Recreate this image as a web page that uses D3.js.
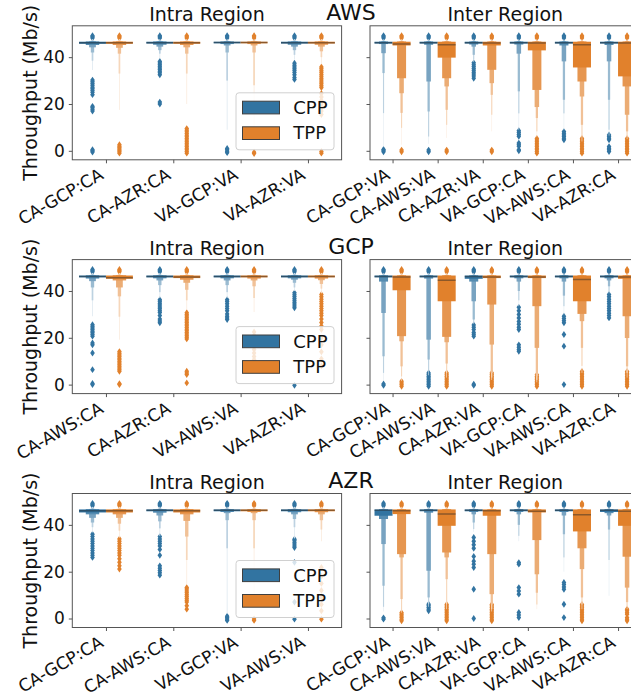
<!DOCTYPE html>
<html>
<head>
<meta charset="utf-8">
<script src="https://cdn.jsdelivr.net/npm/d3@7"></script>
<style>
  body { margin: 0; background: #fff; }
  text { font-family: "DejaVu Sans", sans-serif; fill: #111; }
</style>
</head>
<body>
<svg id="fig" width="631" height="698"></svg>
<script>
// ---- data ----
const hues = ["CPP", "TPP"];
const hueColors = ["#3274a1", "#e1812c"];
const yTicks = [0, 20, 40];
// upper ends of the letter-value boxes, innermost first (throughput is capped)
const upperEnds = [46.6, 46.7, 46.8, 47.0, 47.3, 47.7];
// outliers above the cap, seen on every box
const topOutliers = [48.2, 48.7, 49.2];

const awsIntraCats = ["CA-GCP:CA", "CA-AZR:CA", "VA-GCP:VA", "VA-AZR:VA"];
const awsIntraCPP = [
  {m: 46.2, lo: [45.7, 45.2, 44.2, 42.0, 38.5, 34.5], out: [-0.5, 0, 0.5, 17, 17.8, 18.5, 19, 24, 25, 25.8, 26.5, 27.2, 28, 28.8, 29.5, 30.2]},
  {m: 46.2, lo: [45.8, 45.3, 44.5, 43, 41.5, 39.5], out: [20, 20.8, 32.5, 33.3, 34, 34.7, 35.4, 36.1, 36.8, 37.5, 38.2]},
  {m: 46.3, lo: [45.9, 45.6, 45.0, 42, 30, 9], out: [-0.8, -0.2, 0.4, 1.0]},
  {m: 46.2, lo: [45.8, 45.3, 44.5, 43, 41, 39], out: [30.5, 31.3, 32.5, 33.5, 34.3, 35, 35.8, 36.6, 37.4]}
];
const awsIntraTPP = [
  {m: 46.2, lo: [45.7, 45.2, 44.0, 41.5, 33, 17.5], out: [-1, -0.4, 0.2, 0.8, 1.4, 2, 2.6]},
  {m: 46.2, lo: [45.7, 45.2, 44.2, 41.5, 33, 20], out: [-1, -0.3, 0.4, 1.1, 1.8, 2.5, 3.2, 3.9, 4.6, 5.3, 6, 6.7, 7.4, 8.1, 8.8, 9.5]},
  {m: 46.3, lo: [45.9, 45.6, 45.0, 42, 28, 5], out: [-1.2, -0.6]},
  {m: 46.2, lo: [45.8, 45.3, 44.5, 42.5, 40, 37], out: [-1, -0.3, 15.5, 17, 18.5, 20, 21.5, 23, 24.5, 27, 27.8, 28.6, 29.4, 30.2, 31, 31.8, 32.6, 33.4, 34.2, 35, 35.8]}
];

const awsInterCats = ["CA-GCP:VA", "CA-AWS:VA", "CA-AZR:VA", "VA-GCP:CA", "VA-AWS:CA", "VA-AZR:CA"];
const awsInterCPP = [
  {m: 46.2, lo: [45.8, 45.6, 41.7, 33.2, 16.1, 1.8], out: [-0.4, 0.2, 0.6]},
  {m: 46.2, lo: [45.8, 45.3, 29.6, 16.8, 6.1, 3], out: [-0.4, 0.3]},
  {m: 46.2, lo: [45.8, 45.4, 44.5, 41, 38.9, 38], out: [31, 32, 32.8, 33.6, 34.4, 35.2, 36, 36.8, 37.6]},
  {m: 46.2, lo: [45.8, 45.4, 41.5, 25.4, 16, 9], out: [0, 0.5, 1.9, 2.6, 3.3, 6.2, 7, 7.8, 8.6]},
  {m: 46.2, lo: [45.8, 45.0, 38.2, 21.8, 16, 9], out: [4.7, 5.4, 6.1, 6.8, 7.5, 8.2]},
  {m: 46.2, lo: [45.8, 45.2, 38.2, 21.8, 9, 6.5], out: [-0.3, 0.4, 1.1, 1.8, 4.7, 5.4, 6.1, 6.8]}
];
const awsInterTPP = [
  {m: 45.6, lo: [45.0, 31.0, 24.6, 16.2, 9.8, 2.6], out: [-0.4, 0.3]},
  {m: 45.3, lo: [39.8, 31.0, 27.5, 17.5, 11.1, 5.5], out: [-0.4, 0.3]},
  {m: 46.0, lo: [45.0, 34.6, 28.9, 23.9, 15.4, 8.3], out: [-0.4, 0.3]},
  {m: 46.0, lo: [42.9, 26.0, 18.7, 14.0, 8.3, 6], out: [-1, -0.3, 0.4, 1.1, 1.8, 2.5, 3.2, 3.9, 4.6, 5.3]},
  {m: 45.3, lo: [35.6, 29.6, 23.2, 11.1, 6.1, 4], out: [-1, -0.3, 0.4, 1.1, 1.8, 2.5, 3.2, 3.9, 4.6, 5.3]},
  {m: 46.0, lo: [31.8, 27.5, 15.4, 8.3, 6.0, 5], out: [-1, -0.3, 0.4, 1.1, 1.8, 2.5, 3.2, 3.9, 4.6, 5.3]}
];

const gcpIntraCats = ["CA-AWS:CA", "CA-AZR:CA", "VA-AWS:VA", "VA-AZR:VA"];
const gcpIntraCPP = [
  {m: 46.2, lo: [45.8, 45.3, 44.2, 41.5, 36, 29.2], out: [0, 0.5, 6.4, 13.5, 17, 17.8, 20.7, 21.4, 22.1, 22.8, 23.5, 24.2, 24.9, 25.6]},
  {m: 46.2, lo: [45.8, 45.4, 44.5, 42.5, 39.5, 37], out: [26.4, 27.2, 28, 29.5, 30.8, 31.6, 32.4, 33.2, 34, 34.8, 35.6, 36.3]},
  {m: 46.2, lo: [45.8, 45.4, 44.5, 42.5, 39.5, 37], out: [27.8, 28.5, 29.2, 30.2, 31.5, 32.5, 33.5, 34.5, 35.5, 36.3]},
  {m: 46.2, lo: [45.8, 45.4, 44.8, 43.5, 41.5, 40], out: [-0.3, 32.8, 33.6, 34.4, 35.2, 36, 36.8, 37.6, 38.4, 39.2]}
];
const gcpIntraTPP = [
  {m: 45.7, lo: [45.2, 44.5, 41.5, 37.7, 29, 19.2], out: [0, 0.4, 5.7, 6.4, 7.1, 7.8, 8.5, 9.2, 9.9, 10.6, 11.3, 12, 12.7, 13.4, 14.1]},
  {m: 46.0, lo: [45.5, 44.8, 43.5, 40.5, 36, 32], out: [0.7, 4.3, 5, 5.7, 19.5, 20.2, 20.9, 21.6, 22.3, 23, 23.7, 24.4, 25.1, 25.8, 26.5, 27.2, 27.9, 28.6, 29.3, 30, 30.7]},
  {m: 46.2, lo: [45.8, 45.3, 44.5, 42, 37, 31], out: [10.7, 12, 13.5, 15, 16.5, 18, 19.5, 21, 22.5]},
  {m: 46.2, lo: [45.8, 45.3, 44.6, 43, 41, 39], out: [8, 11, 14, 17, 20, 23.5, 25, 26.5, 28, 29.5, 30.5, 31.5, 32.5, 33.5, 34.5, 35.5, 36.5, 37.5, 38.5]}
];

const gcpInterCats = ["CA-GCP:VA", "CA-AWS:VA", "CA-AZR:VA", "VA-GCP:CA", "VA-AWS:CA", "VA-AZR:CA"];
const gcpInterCPP = [
  {m: 46.2, lo: [45.8, 44, 30.6, 12.1, 5, 2], out: [-0.3, 0.3]},
  {m: 46.2, lo: [45.8, 45.3, 19.2, 10.7, 6, 4], out: [-0.7, 0, 0.7, 1.4, 2.1, 2.8, 3.5, 4.2, 5]},
  {m: 46.2, lo: [45.2, 44, 35.6, 27.8, 26.5, 26], out: [-0.3, 0.2, 20.7, 21.5, 22.3, 23.5, 24.5, 25.5]},
  {m: 46.2, lo: [45.8, 45.4, 44, 40, 36, 33.5], out: [14.2, 15, 16, 17, 23.5, 24.5, 25.8, 27, 28.5, 30, 31.5, 33]},
  {m: 46.2, lo: [45.8, 45.4, 44, 38, 33.5, 30], out: [0, 16.4, 21.4, 26.4, 27.3, 28.2, 29.2]},
  {m: 46.2, lo: [45.8, 45.4, 44.5, 42, 40, 39], out: [28.5, 29.5, 30.5, 31.5, 32.5, 33.5, 34.5, 35.5, 36.5, 37.5, 38.5]}
];
const gcpInterTPP = [
  {m: 46.0, lo: [40.3, 20.7, 18.5, 7.8, 3.5, 1.5], out: [-0.7, 0, 0.7, 1.4]},
  {m: 44.6, lo: [35.6, 20.4, 18.1, 9.0, 5, 3], out: [-0.7, 0, 0.7, 1.4, 2.1, 2.8, 3.5, 4.2, 5]},
  {m: 46.0, lo: [45.5, 34.2, 17.1, 5.0, 3, 2], out: [-0.7, 0, 0.7, 1.4, 2.1, 2.8, 3.5, 4.2, 5]},
  {m: 46.0, lo: [45.5, 33.5, 15.7, 3.6, 2, 1], out: [-0.7, 0, 0.7, 1.4, 2.1, 2.8, 3.5, 4.2]},
  {m: 44.9, lo: [35.6, 30.2, 27.1, 15.7, 8, 5], out: [-0.7, 0, 0.7, 1.4, 2.1, 2.8, 3.5, 4.2, 4.9, 5.6]},
  {m: 46.0, lo: [45.2, 29.2, 19.9, 7.8, 5, 3], out: [-0.7, 0, 0.7, 1.4, 2.1, 2.8, 3.5, 4.2, 4.9, 5.6]}
];

const azrIntraCats = ["CA-GCP:CA", "CA-AWS:CA", "VA-GCP:VA", "VA-AWS:VA"];
const azrIntraCPP = [
  {m: 46.0, lo: [45.3, 44.5, 43, 41, 39, 36.8], out: [26.1, 27, 28, 29, 30, 31, 32, 33, 34, 35, 36]},
  {m: 46.2, lo: [45.8, 45.2, 44, 41.5, 38.5, 35.3], out: [18.5, 19.5, 20.5, 21.5, 22.5, 27, 29.5, 31, 32, 33, 34, 35]},
  {m: 46.2, lo: [45.8, 45.5, 45, 42, 30, 2], out: [-0.8, -0.2, 0.4, 1.0]},
  {m: 46.2, lo: [45.8, 45.4, 44.5, 42.5, 39, 34.2], out: [-0.3, 7, 24, 30.3, 31, 31.8, 32.6, 33.4, 33.9]}
];
const azrIntraTPP = [
  {m: 46.0, lo: [45.3, 44.5, 43, 40.5, 37.5, 34.6], out: [21.1, 22.5, 24, 25.5, 27, 28, 29, 30, 31, 32, 33, 34]},
  {m: 46.0, lo: [45.3, 44.5, 41.7, 35, 25, 14.7], out: [4, 5.5, 7, 7.8, 8.6, 9.4, 10.2, 11, 11.8, 12.6, 13.2]},
  {m: 46.2, lo: [45.8, 45.5, 45, 42, 30, 10], out: [-0.8, -0.2]},
  {m: 46.2, lo: [45.8, 45.4, 44.5, 42, 38, 33], out: [-0.3, 3.3, 6, 9, 12, 15, 18, 21.8]}
];

const azrInterCats = ["CA-GCP:VA", "CA-AWS:VA", "CA-AZR:VA", "VA-GCP:CA", "VA-AWS:CA", "VA-AZR:CA"];
const azrInterCPP = [
  {m: 46.2, lo: [43.9, 42.5, 31.8, 14, 5, 3], out: [-0.3, 0.3]},
  {m: 46.2, lo: [45.8, 45.2, 20.4, 9, 6.1, 5], out: [3.3, 4, 4.7, 5.4, 6.1]},
  {m: 46.2, lo: [45.8, 45.5, 44.5, 41, 38.2, 37], out: [0, 12.5, 21.8, 23.2, 24.5, 26.5, 30, 31.5, 33, 34.6]},
  {m: 46.2, lo: [45.8, 45.5, 44.5, 40, 35.3, 33], out: [0.4, 1.5, 2.6, 10.4, 11.8, 13.2, 23.2, 23.9]},
  {m: 46.2, lo: [45.8, 45.5, 44, 36, 26.1, 20], out: [0.4, 6.1, 12.5, 13.5, 14.5, 15.4]},
  {m: 46.2, lo: [45.5, 45, 44, 38, 25, 9.7], out: []}
];
const azrInterTPP = [
  {m: 46.0, lo: [44.6, 27.5, 26.1, 8.3, 3.3, 2.5], out: [-1, -0.3, 0.4, 1.1, 1.8, 2.5]},
  {m: 44.6, lo: [39.6, 28.2, 26.1, 16.8, 6.1, 4], out: [-1, -0.3, 0.4, 1.1, 1.8, 2.5, 3.2, 3.9, 4.6, 5.3, 6]},
  {m: 46.0, lo: [43.9, 27.5, 10.4, 6, 4, 3], out: [-1, -0.3, 0.4, 1.1, 1.8, 2.5, 3.2, 3.9, 4.6, 5.3, 6]},
  {m: 45.8, lo: [45.3, 33.5, 18.9, 11, 6, 4], out: []},
  {m: 44.3, lo: [37.2, 30.0, 21.1, 9.0, 6, 4], out: [-1, -0.3, 0.4, 1.1, 1.8, 2.5, 3.2, 3.9, 4.6, 5.3, 6]},
  {m: 45.8, lo: [39.6, 26.4, 13.2, 7, 5, 4], out: [-1, -0.3, 0.4, 1.8, 2.5, 3.3, 4.0]}
];

// ---- layout ----
const rows = [
  {name: "AWS", panels: [[awsIntraCats, awsIntraCPP, awsIntraTPP], [awsInterCats, awsInterCPP, awsInterTPP]]},
  {name: "GCP", panels: [[gcpIntraCats, gcpIntraCPP, gcpIntraTPP], [gcpInterCats, gcpInterCPP, gcpInterTPP]]},
  {name: "AZR", panels: [[azrIntraCats, azrIntraCPP, azrIntraTPP], [azrInterCats, azrInterCPP, azrInterTPP]]}
];
const panelTitles = ["Intra Region", "Inter Region"];
const rowTop = [25.8, 259.6, 493.5];
const panelH = 134;
const panelX = [[72.3, 341.6], [370, 640.6]];
const yDomain = [-3.84, 53.4];
const frameColor = "#555";

const svg = d3.select("#fig");

// thin diamond, matplotlib's 'd' marker
const diamond = "M0,-3.4L2.3,0L0,3.4L-2.3,0Z";

function drawBox(g, box, cx, w, y, color) {
  const light = d3.interpolateRgb(color, "#fff")(0.85);
  const shade = d3.interpolateRgb(color, light);
  const n = box.lo.length;

  // outliers sit under the boxes
  box.out.concat(topOutliers).forEach(v => {
    g.append("path")
      .attr("d", diamond)
      .attr("transform", `translate(${cx},${y(v)})`)
      .attr("fill", color);
  });

  // letter-value boxes, outermost first so the inner ones end up on top
  for (let i = n - 1; i >= 0; i--) {
    const bw = w * Math.pow(2, -i);
    g.append("rect")
      .attr("x", cx - bw / 2)
      .attr("width", bw)
      .attr("y", y(upperEnds[i]))
      .attr("height", y(box.lo[i]) - y(upperEnds[i]))
      .attr("fill", shade(i / (n - 1)));
  }

  // median line
  g.append("line")
    .attr("x1", cx - w / 2).attr("x2", cx + w / 2)
    .attr("y1", y(box.m)).attr("y2", y(box.m))
    .attr("stroke", "rgba(38,38,38,0.45)")
    .attr("stroke-width", 1.5);
}

function drawLegend(g, x1, bottom) {
  const lg = g.append("g").attr("transform", `translate(${x1 - 105.6},${bottom - 67})`);
  lg.append("rect")
    .attr("width", 98).attr("height", 57).attr("rx", 3)
    .attr("fill", "rgba(255,255,255,0.8)")
    .attr("stroke", "#d0d0d0");
  hues.forEach((h, k) => {
    lg.append("rect")
      .attr("x", 6.5).attr("y", 8.4 + k * 25.6)
      .attr("width", 37).attr("height", 12.7)
      .attr("fill", hueColors[k])
      .attr("stroke", "#3f3f3f");
    lg.append("text")
      .attr("x", 57.3).attr("y", 21 + k * 25.7)
      .style("font-size", "18px")
      .text(h);
  });
}

rows.forEach((row, r) => {
  const top = rowTop[r];
  const bottom = top + panelH;
  const y = d3.scaleLinear().domain(yDomain).range([bottom, top]);

  row.panels.forEach((p, j) => {
    const [cats, cpp, tpp] = p;
    const [x0, x1] = panelX[j];
    const x = d3.scaleLinear().domain([-0.5, cats.length - 0.5]).range([x0, x1]);
    const hueW = x(0.4) - x(0);

    const clipId = `clip-${r}-${j}`;
    svg.append("clipPath").attr("id", clipId)
      .append("rect").attr("x", x0).attr("y", top).attr("width", x1 - x0).attr("height", panelH);

    const g = svg.append("g").attr("clip-path", `url(#${clipId})`);
    [cpp, tpp].forEach((series, k) => {
      series.forEach((box, i) => {
        drawBox(g, box, x(i + (k === 0 ? -0.2 : 0.2)), hueW, y, hueColors[k]);
      });
    });

    if (j === 0) drawLegend(svg, x1, bottom);

    // frame
    svg.append("rect")
      .attr("x", x0).attr("y", top).attr("width", x1 - x0).attr("height", panelH)
      .attr("fill", "none").attr("stroke", frameColor).attr("stroke-width", 1);

    // y axis
    const yAxis = svg.append("g")
      .attr("transform", `translate(${x0},0)`)
      .call(d3.axisLeft(y).tickValues(yTicks).tickSize(3.5).tickPadding(4)
        .tickFormat(j === 0 ? d3.format("d") : () => ""));
    yAxis.select(".domain").remove();
    yAxis.selectAll("line").attr("stroke", frameColor);
    yAxis.selectAll("text").style("font-size", "17px").attr("fill", "#111");

    // x axis with rotated category labels
    const xAxis = svg.append("g")
      .attr("transform", `translate(0,${bottom})`)
      .call(d3.axisBottom(x).tickValues(d3.range(cats.length)).tickSize(3.5)
        .tickFormat(i => cats[i]));
    xAxis.select(".domain").remove();
    xAxis.selectAll("line").attr("stroke", frameColor);
    xAxis.selectAll("text")
      .attr("y", null).attr("dy", null)
      .attr("text-anchor", "end")
      .attr("transform", "translate(-2,18.2) rotate(-30)")
      .style("font-size", "17px")
      .attr("fill", "#111");

    // panel title
    svg.append("text")
      .attr("x", (x0 + x1) / 2).attr("y", top - 5)
      .attr("text-anchor", "middle")
      .style("font-size", "19px")
      .text(panelTitles[j]);
  });

  // row (cloud) title
  svg.append("text")
    .attr("x", 351).attr("y", top - 5.5)
    .attr("text-anchor", "middle")
    .style("font-size", "22px")
    .text(row.name);

  // y label
  svg.append("text")
    .attr("transform", `translate(37,${top + panelH / 2}) rotate(-90)`)
    .attr("text-anchor", "middle")
    .style("font-size", "19px")
    .text("Throughput (Mb/s)");
});
</script>
</body>
</html>
